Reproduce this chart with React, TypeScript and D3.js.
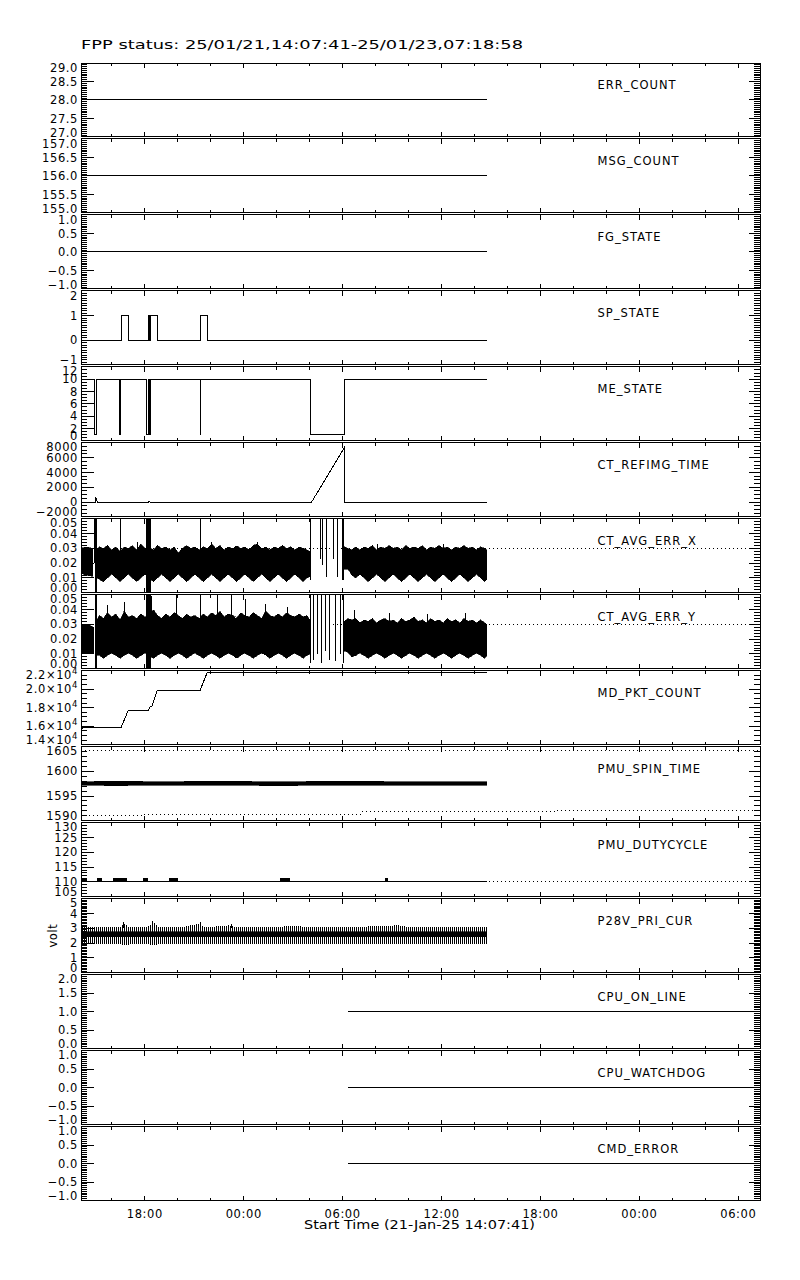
import React from "react";
import * as d3 from "d3";

// ---------- time frame ----------
const T0 = Date.UTC(2025, 0, 21, 14, 7, 41);
const T1 = Date.UTC(2025, 0, 23, 7, 18, 58);
const HOUR = 3600 * 1000;

const titleText = "FPP status: 25/01/21,14:07:41-25/01/23,07:18:58";
const xAxisTitle = "Start Time (21-Jan-25 14:07:41)";

// ---------- series (t = hours since start) ----------
const errCount = [[0, 28], [24.62, 28]];
const msgCount = [[0, 156], [24.62, 156]];
const fgState = [[0, 0], [24.62, 0]];
const spState = [
  [0, 0], [2.44, 0], [2.44, 1], [2.87, 1], [2.87, 0], [4.11, 0], [4.11, 1], [4.17, 1], [4.17, 0],
  [4.23, 0], [4.23, 1], [4.63, 1], [4.63, 0], [7.23, 0], [7.23, 1], [7.66, 1], [7.66, 0], [24.62, 0],
];
const meState = [
  [0.81, 10], [0.81, 1], [0.97, 1], [0.97, 10],
  [2.36, 10], [2.36, 1], [2.37, 1], [2.37, 10], [2.38, 10], [2.38, 5.5], [2.4, 5.5], [2.4, 10],
  [3.98, 10], [3.98, 1], [4.11, 1], [4.11, 10], [4.125, 10], [4.125, 1], [4.14, 1], [4.14, 10],
  [4.155, 10], [4.155, 1], [4.17, 1], [4.17, 10], [4.185, 10], [4.185, 1], [4.2, 1], [4.2, 10],
  [4.215, 10], [4.215, 1], [4.23, 1], [4.23, 10],
  [7.23, 10], [7.23, 1], [7.24, 1], [7.24, 10],
  [13.91, 10], [13.91, 1], [15.97, 1], [15.97, 10], [24.62, 10],
];
const ctRefimg = [
  [0, 0], [0.86, 0], [0.9, 550], [0.95, 250], [1.0, 0], [4.1, 0], [4.13, 100], [4.17, 0],
  [13.99, 0], [15.97, 7350], [15.97, 0], [24.62, 0],
];

// CT_AVG_ERR_X envelope [t, low, high]
const ctxBandA = [[0, 0.013, 0.03], [0.3, 0.012, 0.031], [0.72, 0.011, 0.03]];
const ctxBandB = [
  [0.97, 0.01, 0.029], [1.12, 0.009, 0.031], [1.36, 0.0075, 0.03], [1.61, 0.01, 0.032], [1.86, 0.0125, 0.029],
  [2.12, 0.01, 0.031], [2.37, 0.0075, 0.028], [2.62, 0.01, 0.031], [2.87, 0.0125, 0.03], [3.12, 0.01, 0.032],
  [3.38, 0.0075, 0.029], [3.63, 0.01, 0.033], [3.88, 0.0125, 0.03], [4.14, 0.01, 0.031], [4.39, 0.0075, 0.029],
  [4.64, 0.01, 0.032], [4.89, 0.0125, 0.03], [5.15, 0.01, 0.031], [5.4, 0.0075, 0.029], [5.65, 0.01, 0.031],
  [5.9, 0.0125, 0.027], [6.16, 0.01, 0.03], [6.41, 0.0075, 0.032], [6.66, 0.01, 0.03], [6.91, 0.0125, 0.031],
  [7.17, 0.01, 0.029], [7.42, 0.0075, 0.031], [7.67, 0.01, 0.03], [7.92, 0.0125, 0.033], [8.18, 0.01, 0.03],
  [8.43, 0.0075, 0.032], [8.68, 0.01, 0.029], [8.93, 0.0125, 0.031], [9.19, 0.01, 0.03], [9.44, 0.0075, 0.032],
  [9.69, 0.01, 0.03], [9.94, 0.0125, 0.031], [10.2, 0.01, 0.029], [10.45, 0.0075, 0.032], [10.7, 0.01, 0.033],
  [10.95, 0.0125, 0.03], [11.21, 0.01, 0.031], [11.46, 0.0075, 0.029], [11.71, 0.01, 0.031], [11.96, 0.0125, 0.03],
  [12.22, 0.01, 0.032], [12.47, 0.0075, 0.03], [12.72, 0.01, 0.031], [12.97, 0.0125, 0.029], [13.23, 0.01, 0.031],
  [13.48, 0.0075, 0.03], [13.7, 0.01, 0.029], [13.88, 0.011, 0.028],
];
const ctxBandC = [
  [15.97, 0.016, 0.031], [16.2, 0.016, 0.03], [16.42, 0.012, 0.029], [16.67, 0.01, 0.031], [16.92, 0.0125, 0.029],
  [17.17, 0.01, 0.031], [17.42, 0.0075, 0.03], [17.68, 0.01, 0.032], [17.93, 0.0125, 0.029], [18.18, 0.01, 0.031],
  [18.43, 0.0075, 0.03], [18.69, 0.01, 0.032], [18.94, 0.0125, 0.03], [19.19, 0.01, 0.031], [19.44, 0.0075, 0.029],
  [19.7, 0.01, 0.032], [19.95, 0.0125, 0.03], [20.2, 0.01, 0.031], [20.45, 0.0075, 0.03], [20.71, 0.01, 0.032],
  [20.96, 0.0125, 0.029], [21.21, 0.01, 0.031], [21.46, 0.0075, 0.03], [21.72, 0.01, 0.032], [21.97, 0.0125, 0.03],
  [22.22, 0.01, 0.031], [22.47, 0.0075, 0.029], [22.73, 0.01, 0.031], [22.98, 0.0125, 0.03], [23.23, 0.01, 0.032],
  [23.48, 0.0075, 0.03], [23.74, 0.01, 0.031], [23.99, 0.0125, 0.029], [24.24, 0.01, 0.031], [24.49, 0.0075, 0.03],
  [24.62, 0.009, 0.029],
];
// vertical excursions [t0, t1, low, high]
const ctxBars = [
  [0.76, 0.79, 0.02, 0.06], [0.84, 0.97, 0.0, 0.06], [2.35, 2.4, 0.012, 0.06], [3.97, 4.22, 0.0, 0.06],
  [7.21, 7.26, 0.012, 0.06], [13.88, 13.98, 0.0085, 0.06], [14.47, 14.51, 0.023, 0.06], [14.64, 14.68, 0.0187, 0.06],
  [14.84, 14.88, 0.0107, 0.06], [15.28, 15.32, 0.023, 0.06], [15.52, 15.56, 0.0107, 0.06], [15.86, 15.96, 0.0085, 0.06],
];
const ctxSpikes = [[3.4, 0.015, 0.034], [7.9, 0.015, 0.034], [10.7, 0.015, 0.034], [18.0, 0.015, 0.033], [22.0, 0.015, 0.033]];

// CT_AVG_ERR_Y envelope [t, low, high]
const ctyBandA = [[0, 0.011, 0.029], [0.4, 0.01, 0.03], [0.78, 0.01, 0.028]];
const ctyBandB = [
  [0.97, 0.009, 0.033], [1.12, 0.009, 0.036], [1.36, 0.007, 0.034], [1.61, 0.009, 0.038], [1.86, 0.0105, 0.035],
  [2.12, 0.009, 0.037], [2.37, 0.007, 0.033], [2.62, 0.009, 0.039], [2.87, 0.0105, 0.035], [3.12, 0.009, 0.036],
  [3.38, 0.007, 0.034], [3.63, 0.009, 0.037], [3.88, 0.0105, 0.035], [4.14, 0.009, 0.036], [4.39, 0.007, 0.04],
  [4.64, 0.009, 0.036], [4.89, 0.0105, 0.034], [5.15, 0.009, 0.037], [5.4, 0.007, 0.035], [5.65, 0.009, 0.038],
  [5.9, 0.0105, 0.036], [6.16, 0.009, 0.034], [6.41, 0.007, 0.037], [6.66, 0.009, 0.035], [6.91, 0.0105, 0.036],
  [7.17, 0.009, 0.034], [7.42, 0.007, 0.037], [7.67, 0.009, 0.035], [7.92, 0.0105, 0.038], [8.18, 0.009, 0.036],
  [8.43, 0.007, 0.039], [8.68, 0.009, 0.035], [8.93, 0.0105, 0.037], [9.19, 0.009, 0.036], [9.44, 0.007, 0.034],
  [9.69, 0.009, 0.038], [9.94, 0.0105, 0.036], [10.2, 0.009, 0.035], [10.45, 0.007, 0.038], [10.7, 0.009, 0.036],
  [10.95, 0.0105, 0.034], [11.21, 0.009, 0.039], [11.46, 0.007, 0.036], [11.71, 0.009, 0.035], [11.96, 0.0105, 0.037],
  [12.22, 0.009, 0.035], [12.47, 0.007, 0.038], [12.72, 0.009, 0.036], [12.97, 0.0105, 0.035], [13.23, 0.009, 0.037],
  [13.48, 0.007, 0.035], [13.7, 0.009, 0.036], [13.88, 0.01, 0.033],
];
const ctyBandC = [
  [15.97, 0.012, 0.032], [16.2, 0.011, 0.034], [16.42, 0.008, 0.033], [16.67, 0.009, 0.034], [16.92, 0.0105, 0.031],
  [17.17, 0.009, 0.033], [17.42, 0.007, 0.032], [17.68, 0.009, 0.034], [17.93, 0.0105, 0.031], [18.18, 0.009, 0.033],
  [18.43, 0.007, 0.034], [18.69, 0.009, 0.032], [18.94, 0.0105, 0.033], [19.19, 0.009, 0.031], [19.44, 0.007, 0.034],
  [19.7, 0.009, 0.032], [19.95, 0.0105, 0.033], [20.2, 0.009, 0.035], [20.45, 0.007, 0.032], [20.71, 0.009, 0.033],
  [20.96, 0.0105, 0.031], [21.21, 0.009, 0.034], [21.46, 0.007, 0.032], [21.72, 0.009, 0.033], [21.97, 0.0105, 0.031],
  [22.22, 0.009, 0.034], [22.47, 0.007, 0.032], [22.73, 0.009, 0.033], [22.98, 0.0105, 0.031], [23.23, 0.009, 0.034],
  [23.48, 0.007, 0.032], [23.74, 0.009, 0.033], [23.99, 0.0105, 0.031], [24.24, 0.009, 0.033], [24.49, 0.007, 0.031],
  [24.62, 0.009, 0.03],
];
const ctyBars = [
  [0.84, 0.97, 0.0, 0.06], [3.97, 4.22, 0.0, 0.06], [7.21, 7.26, 0.01, 0.06],
  [13.88, 13.96, 0.004, 0.06], [14.1, 14.13, 0.006, 0.06], [14.3, 14.33, 0.01, 0.06], [14.55, 14.58, 0.004, 0.06],
  [14.78, 14.81, 0.012, 0.06], [15.05, 15.08, 0.006, 0.06], [15.4, 15.43, 0.005, 0.06], [15.7, 15.73, 0.01, 0.06],
  [15.88, 15.96, 0.004, 0.06],
];
const ctySpikes = [
  [1.6, 0.015, 0.043], [2.62, 0.015, 0.045], [4.3, 0.015, 0.049], [5.8, 0.015, 0.05], [8.3, 0.015, 0.05],
  [9.1, 0.015, 0.05], [9.95, 0.015, 0.047], [11.2, 0.015, 0.044], [12.5, 0.015, 0.042], [16.6, 0.015, 0.04],
  [18.7, 0.015, 0.038], [21.0, 0.015, 0.037], [23.3, 0.015, 0.038],
];
const ctLimit = [[0, 0.03], [41.19, 0.03]];

const mdPkt = [
  [0, 15600], [0.14, 15890], [2.44, 15890], [2.87, 17730], [4.08, 17730], [4.2, 18090], [4.29, 18090],
  [4.63, 19890], [7.23, 19890], [7.66, 21840], [24.62, 21840],
];

const spinBand = [
  [0, 1597.2, 1597.9], [2, 1597.1, 1598.0], [5, 1597.2, 1597.9], [8, 1597.2, 1598.0], [12, 1597.1, 1597.9],
  [16, 1597.2, 1598.0], [20, 1597.2, 1597.9], [24.62, 1597.2, 1597.9],
];
const spinLimitHigh = [[0, 1604.3], [41.19, 1604.3]];
const spinLimitLow = [
  [0, 1591.1], [3.82, 1591.1], [3.82, 1591.35], [17, 1591.35], [17, 1591.8], [28.74, 1591.8],
  [28.74, 1592.0], [36.81, 1592.0], [36.81, 1592.15], [41.19, 1592.15],
];

const dutyLine = [[0, 110], [24.62, 110]];
const dutyBlips = [
  [0, 0.36, 110, 111.3], [0.95, 1.29, 110, 111.3], [1.96, 2.77, 110, 111.3], [3.78, 4.08, 110, 111.3],
  [5.34, 5.86, 110, 111.3], [12.07, 12.67, 110, 111.3], [18.43, 18.62, 110, 111.3],
];
const dutyLimit = [[0, 110], [41.19, 110]];

const p28Band = [
  [0, 1.95, 3.05], [1.0, 1.95, 3.05], [2.4, 1.9, 3.1], [2.6, 1.85, 3.3], [2.9, 1.9, 3.1], [4.0, 1.95, 3.05],
  [4.4, 1.85, 3.4], [4.7, 1.9, 3.1], [6.0, 1.95, 3.05], [7.2, 1.9, 3.3], [7.5, 1.95, 3.05], [9.0, 1.9, 3.2],
  [9.4, 1.95, 3.05], [12.0, 1.95, 3.1], [13.0, 1.9, 3.15], [14.0, 1.95, 3.05], [17.0, 1.95, 3.1],
  [19.3, 1.9, 3.2], [20.0, 1.95, 3.05], [22.5, 1.95, 3.1], [24.62, 1.95, 3.05],
];
const p28Core = [[0, 2.43, 2.77], [24.62, 2.43, 2.77]];
const p28Spikes = [[2.55, 3.0, 3.45], [4.35, 3.0, 3.5], [7.25, 3.0, 3.4], [9.1, 3.0, 3.3]];

const cpuOnLine = [[16.19, 1], [41.19, 1]];
const cpuWatchdog = [[16.19, 0], [41.19, 0]];
const cmdError = [[16.19, 0], [41.19, 0]];

// ---------- panel names & y tick values ----------
const panelNames = [
  "ERR_COUNT", "MSG_COUNT", "FG_STATE", "SP_STATE", "ME_STATE", "CT_REFIMG_TIME", "CT_AVG_ERR_X",
  "CT_AVG_ERR_Y", "MD_PKT_COUNT", "PMU_SPIN_TIME", "PMU_DUTYCYCLE", "P28V_PRI_CUR", "CPU_ON_LINE",
  "CPU_WATCHDOG", "CMD_ERROR",
];
const ticksErr = [27, 27.5, 28, 28.5, 29];
const ticksMsg = [155, 155.5, 156, 156.5, 157];
const ticksPm1 = [-1, -0.5, 0, 0.5, 1];
const ticksSp = [-1, 0, 1, 2];
const ticksMe = [0, 2, 4, 6, 8, 10, 12];
const ticksRef = [-2000, 0, 2000, 4000, 6000, 8000];
const ticksCt = [0, 0.01, 0.02, 0.03, 0.04, 0.05];
const ticksMd = [14000, 16000, 18000, 20000, 22000];
const ticksSpin = [1590, 1595, 1600, 1605];
const ticksDuty = [105, 110, 115, 120, 125, 130];
const ticksP28 = [0, 1, 2, 3, 4, 5];
const ticksCpu = [0, 0.5, 1, 1.5, 2];

const f1 = d3.format(".1f");
const f2 = d3.format(".2f");
const fd = d3.format("d");
const fSci = (v: number) => (
  <>
    {(v / 1e4).toFixed(1)}×10<tspan dy={-5} fontSize={8.5}>4</tspan>
  </>
);

type Panel = {
  name: string;
  ticks: number[];
  minor: number;
  fmt: (v: number) => any;
  lines?: number[][][];
  dotted?: number[][][];
  bands?: number[][][];
  combs?: number[][][];
  bars?: number[][];
  spikes?: number[][];
  ytitle?: string;
};

const panels: Panel[] = [
  { name: panelNames[0], ticks: ticksErr, minor: 10, fmt: f1, lines: [errCount] },
  { name: panelNames[1], ticks: ticksMsg, minor: 10, fmt: f1, lines: [msgCount] },
  { name: panelNames[2], ticks: ticksPm1, minor: 10, fmt: f1, lines: [fgState] },
  { name: panelNames[3], ticks: ticksSp, minor: 10, fmt: fd, lines: [spState] },
  { name: panelNames[4], ticks: ticksMe, minor: 4, fmt: fd, lines: [meState] },
  { name: panelNames[5], ticks: ticksRef, minor: 4, fmt: fd, lines: [ctRefimg] },
  { name: panelNames[6], ticks: ticksCt, minor: 5, fmt: f2, dotted: [ctLimit], bands: [ctxBandA, ctxBandB, ctxBandC], bars: ctxBars, spikes: ctxSpikes },
  { name: panelNames[7], ticks: ticksCt, minor: 5, fmt: f2, dotted: [ctLimit], bands: [ctyBandA, ctyBandB, ctyBandC], bars: ctyBars, spikes: ctySpikes },
  { name: panelNames[8], ticks: ticksMd, minor: 4, fmt: fSci, lines: [mdPkt] },
  { name: panelNames[9], ticks: ticksSpin, minor: 5, fmt: fd, dotted: [spinLimitHigh, spinLimitLow], bands: [spinBand] },
  { name: panelNames[10], ticks: ticksDuty, minor: 5, fmt: fd, dotted: [dutyLimit], lines: [dutyLine], bars: dutyBlips },
  { name: panelNames[11], ticks: ticksP28, minor: 10, fmt: fd, combs: [p28Band], bands: [p28Core], spikes: p28Spikes, ytitle: "volt" },
  { name: panelNames[12], ticks: ticksCpu, minor: 10, fmt: f1, lines: [cpuOnLine] },
  { name: panelNames[13], ticks: ticksPm1, minor: 10, fmt: f1, lines: [cpuWatchdog] },
  { name: panelNames[14], ticks: ticksPm1, minor: 10, fmt: f1, lines: [cmdError] },
];

// ---------- layout ----------
const W = 800, H = 1280;
const LEFT = 81, RIGHT = 760, TOP = 63, BOTTOM = 1200.5, GAP = 2;
const N = panels.length;
const PITCH = (BOTTOM - TOP + GAP) / N;
const PH = PITCH - GAP;
const FONT = "'DejaVu Sans', Verdana, sans-serif";
const FS = 11.5;

const xs = d3.scaleUtc().domain([new Date(T0), new Date(T1)]).range([LEFT, RIGHT]);
const tx = (t: number) => xs(new Date(T0 + t * HOUR));
const majorTimes = d3.utcHour.every(6)!.range(new Date(T0), new Date(T1));
const minorTimes = d3.utcHour.every(2)!.range(new Date(T0), new Date(T1)).filter((d) => d.getUTCHours() % 6 !== 0);
const fmtTime = d3.utcFormat("%H:%M");

function PanelView({ p, i }: { p: Panel; i: number }) {
  const top = TOP + i * PITCH;
  const bot = top + PH;
  const dom = [p.ticks[0], p.ticks[p.ticks.length - 1]];
  const y = d3.scaleLinear().domain(dom).range([bot, top]);
  const line = d3.line<number[]>().x((d) => tx(d[0])).y((d) => y(d[1]));
  const area = d3.area<number[]>().x((d) => tx(d[0])).y0((d) => y(d[1])).y1((d) => y(d[2]));
  const clipId = `clip${i}`;
  const minors: number[] = [];
  for (let k = 0; k < p.ticks.length - 1; k++) {
    const st = (p.ticks[k + 1] - p.ticks[k]) / p.minor;
    for (let j = 1; j < p.minor; j++) minors.push(p.ticks[k] + j * st);
  }
  return (
    <g>
      <clipPath id={clipId}>
        <rect x={LEFT} y={top} width={RIGHT - LEFT} height={PH} />
      </clipPath>
      <g clipPath={`url(#${clipId})`}>
        {(p.dotted || []).map((d, k) => (
          <path key={"d" + k} d={line(d)!} fill="none" stroke="#000" strokeWidth={1} strokeDasharray="1 3" />
        ))}
        {(p.combs || []).map((d, k) => (
          <path key={"c" + k} d={area(d)!} fill="url(#comb)" stroke="none" />
        ))}
        {(p.bands || []).map((d, k) => (
          <path key={"b" + k} d={area(d)!} fill="#000" stroke="#000" strokeWidth={0.6} />
        ))}
        {(p.bars || []).map((d, k) => (
          <rect key={"r" + k} x={tx(d[0])} y={y(d[3])} width={Math.max(1, tx(d[1]) - tx(d[0]))}
            height={y(d[2]) - y(d[3])} fill="#000" />
        ))}
        {(p.spikes || []).map((d, k) => (
          <line key={"s" + k} x1={tx(d[0])} x2={tx(d[0])} y1={y(d[1])} y2={y(d[2])} stroke="#000" strokeWidth={1} />
        ))}
        {(p.lines || []).map((d, k) => (
          <path key={"l" + k} d={line(d)!} fill="none" stroke="#000" strokeWidth={1} />
        ))}
      </g>
      <rect x={LEFT} y={top} width={RIGHT - LEFT} height={PH} fill="none" stroke="#000" strokeWidth={1} />
      {majorTimes.map((d, k) => (
        <g key={"mx" + k}>
          <line x1={xs(d)} x2={xs(d)} y1={top} y2={top + 5} stroke="#000" />
          <line x1={xs(d)} x2={xs(d)} y1={bot} y2={bot - 5} stroke="#000" />
        </g>
      ))}
      {minorTimes.map((d, k) => (
        <g key={"nx" + k}>
          <line x1={xs(d)} x2={xs(d)} y1={top} y2={top + 3} stroke="#000" />
          <line x1={xs(d)} x2={xs(d)} y1={bot} y2={bot - 3} stroke="#000" />
        </g>
      ))}
      {p.ticks.map((v, k) => (
        <g key={"my" + k}>
          <line x1={LEFT} x2={LEFT + 13} y1={y(v)} y2={y(v)} stroke="#000" />
          <line x1={RIGHT} x2={RIGHT - 11} y1={y(v)} y2={y(v)} stroke="#000" />
        </g>
      ))}
      {minors.map((v, k) => (
        <g key={"ny" + k}>
          <line x1={LEFT} x2={LEFT + 6} y1={y(v)} y2={y(v)} stroke="#000" />
          <line x1={RIGHT} x2={RIGHT - 6} y1={y(v)} y2={y(v)} stroke="#000" />
        </g>
      ))}
      {p.ticks.map((v, k) => {
        const c = Math.min(Math.max(y(v), top + 4.5), bot - 4.5);
        return (
          <text key={"t" + k} x={78} y={c + 4.1} textAnchor="end" fontSize={FS} letterSpacing={0.6}
            fontFamily={FONT} fill="#000">
            {p.fmt(v)}
          </text>
        );
      })}
      <text x={597.5} y={top + 26} fontSize={FS} letterSpacing={1} fontFamily={FONT} fill="#000">
        {p.name}
      </text>
      {p.ytitle ? (
        <text transform={`translate(57,${(top + bot) / 2}) rotate(-90)`} textAnchor="middle" fontSize={FS}
          letterSpacing={0.6} fontFamily={FONT} fill="#000">
          {p.ytitle}
        </text>
      ) : null}
    </g>
  );
}

export default function App() {
  const lastBot = TOP + (N - 1) * PITCH + PH;
  return (
    <svg width={W} height={H} viewBox={`0 0 ${W} ${H}`}
      style={{ position: "absolute", left: 0, top: 0, background: "#fff" }} shapeRendering="crispEdges">
      <defs>
        <pattern id="comb" width={2} height={4} patternUnits="userSpaceOnUse">
          <rect x={0} y={0} width={1} height={4} fill="#000" />
        </pattern>
      </defs>
      <rect x={0} y={0} width={W} height={H} fill="#fff" />
      <text x={81} y={48.5} fontSize={13} fontFamily={FONT} textLength={442} lengthAdjust="spacingAndGlyphs" fill="#000">
        {titleText}
      </text>
      {panels.map((p, i) => (
        <PanelView key={p.name} p={p} i={i} />
      ))}
      {majorTimes.map((d, k) => (
        <text key={"xl" + k} x={xs(d)} y={lastBot + 17.2} textAnchor="middle" fontSize={FS} letterSpacing={0.6}
          fontFamily={FONT} fill="#000">
          {fmtTime(d)}
        </text>
      ))}
      <text x={419.5} y={lastBot + 28} textAnchor="middle" fontSize={12} fontFamily={FONT} textLength={231}
        lengthAdjust="spacingAndGlyphs" fill="#000">
        {xAxisTitle}
      </text>
    </svg>
  );
}
